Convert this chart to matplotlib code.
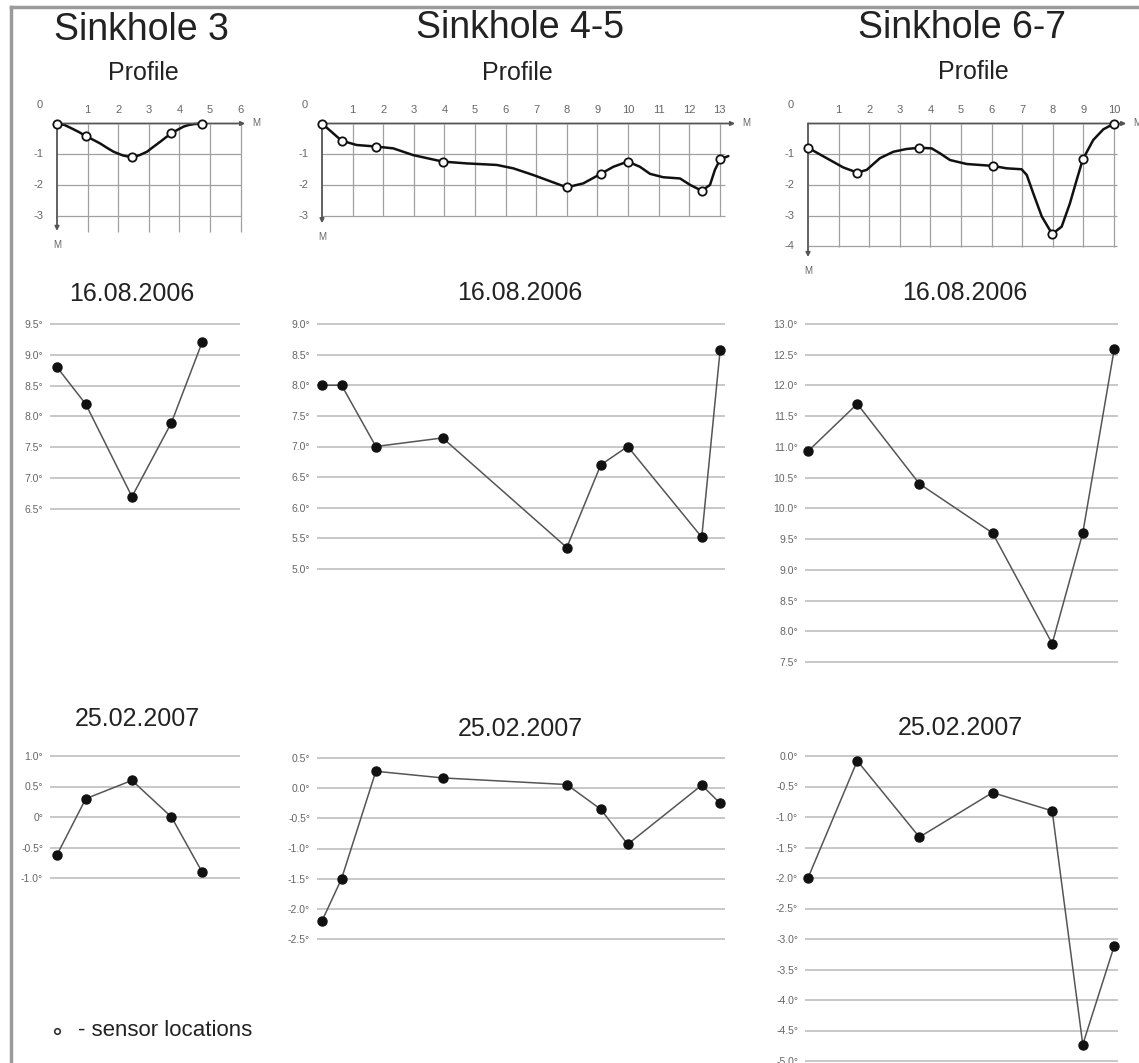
import matplotlib
matplotlib.use("Agg")
import matplotlib.pyplot as plt
from matplotlib.lines import Line2D

plt.rcParams['font.family'] = ['Liberation Sans', 'DejaVu Sans']

# ---- data ----
# sensor positions along the profile (m) and depth of the ground (m)
s3_x = [0, 0.94, 2.45, 3.74, 4.74]
s3_depth = [0, -0.41, -1.10, -0.32, 0]
s3_curve_x = [0, 0.25, 0.48, 0.72, 0.94, 1.18, 1.41, 1.63, 1.85, 2.15, 2.45, 2.7, 2.94,
              3.15, 3.38, 3.56, 3.74, 3.95, 4.14, 4.3, 4.47, 4.74]
s3_curve_y = [0, -0.05, -0.16, -0.28, -0.41, -0.53, -0.65, -0.79, -0.92, -1.04, -1.10,
              -1.03, -0.92, -0.76, -0.59, -0.45, -0.32, -0.2, -0.10, -0.05, -0.02, 0]
s3_t_aug = [8.8, 8.2, 6.7, 7.9, 9.2]
s3_t_feb = [-0.62, 0.3, 0.6, 0.0, -0.9]

s45_x = [0, 0.64, 1.76, 3.94, 8.0, 9.11, 9.99, 12.41, 13.01]
s45_depth = [0, -0.56, -0.75, -1.24, -2.08, -1.64, -1.24, -2.19, -1.17]
s45_curve_x = [0, 0.64, 1.13, 1.76, 2.33, 2.98, 3.94, 4.73, 5.71, 6.25, 6.91, 8.0, 8.54,
               9.11, 9.52, 9.99, 10.39, 10.72, 11.15, 11.7, 12.03, 12.41, 12.68, 12.84,
               13.01, 13.28]
s45_curve_y = [0, -0.56, -0.70, -0.75, -0.81, -1.03, -1.24, -1.30, -1.35, -1.46, -1.68,
               -2.08, -1.95, -1.64, -1.41, -1.24, -1.41, -1.64, -1.75, -1.79, -2.0, -2.19,
               -2.0, -1.51, -1.17, -1.06]
s45_t_aug = [8.0, 8.0, 7.0, 7.14, 5.35, 6.7, 7.0, 5.52, 8.57]
s45_t_feb = [-2.2, -1.5, 0.28, 0.17, 0.06, -0.35, -0.93, 0.05, -0.25]

s67_x = [0, 1.61, 3.64, 6.03, 7.98, 8.98, 10.01]
s67_depth = [-0.79, -1.60, -0.79, -1.38, -3.60, -1.17, 0]
s67_curve_x = [0, 0.61, 1.15, 1.61, 1.92, 2.35, 2.79, 3.22, 3.64, 4.04, 4.31, 4.64, 5.19,
               6.03, 6.49, 6.98, 7.15, 7.36, 7.64, 7.98, 8.29, 8.56, 8.78, 8.98, 9.32,
               9.65, 10.01]
s67_curve_y = [-0.79, -1.13, -1.43, -1.60, -1.51, -1.13, -0.92, -0.83, -0.79, -0.81, -0.97,
               -1.19, -1.32, -1.38, -1.46, -1.49, -1.68, -2.27, -3.03, -3.60, -3.36, -2.60,
               -1.84, -1.17, -0.54, -0.19, 0]
s67_t_aug = [10.93, 11.7, 10.4, 9.6, 7.8, 9.6, 12.6]
s67_t_feb = [-2.0, -0.08, -1.33, -0.6, -0.9, -4.73, -3.11]

t1a_ticks = [9.5, 9.0, 8.5, 8.0, 7.5, 7.0, 6.5]
t1b_ticks = [1.0, 0.5, 0.0, -0.5, -1.0]
t1b_labels = ['1.0°', '0.5°', '0°', '-0.5°', '-1.0°']
t2a_ticks = [9.0, 8.5, 8.0, 7.5, 7.0, 6.5, 6.0, 5.5, 5.0]
t2b_ticks = [0.5, 0.0, -0.5, -1.0, -1.5, -2.0, -2.5]
t3a_ticks = [13.0, 12.5, 12.0, 11.5, 11.0, 10.5, 10.0, 9.5, 9.0, 8.5, 8.0, 7.5]
t3b_ticks = [0.0, -0.5, -1.0, -1.5, -2.0, -2.5, -3.0, -3.5, -4.0, -4.5, -5.0]

W, H = 1139, 1063
SX, SY = 30.6, 30.7
Y0 = 123.5

fig = plt.figure(figsize=(W / 100, H / 100), dpi=100)
fig.patch.set_facecolor('white')


def px_axes(l, t, r, b):
    return fig.add_axes([l / W, 1 - b / H, (r - l) / W, (b - t) / H])


def profil(x0, xlim, ylim, cx, cy, sx, sy, ngrid, depths, vbottom, hright, arrx, arry):
    l = x0 + xlim[0] * SX
    r = x0 + xlim[1] * SX
    t = Y0 - ylim[1] * SY
    b = Y0 - ylim[0] * SY
    ax = px_axes(l, t, r, b)
    ax.set_xlim(xlim)
    ax.set_ylim(ylim)
    ax.axis('off')
    ax.hlines(depths, 0, hright, color='#a0a0a0', lw=0.9)
    ax.vlines(range(1, ngrid + 1), vbottom, 0, color='#a0a0a0', lw=0.9)
    ax.annotate('', xy=(arrx, 0), xytext=(0, 0),
                arrowprops=dict(arrowstyle='-|>', color='#555', lw=1.3, mutation_scale=6,
                                shrinkA=0, shrinkB=0))
    ax.annotate('', xy=(0, arry), xytext=(0, 0),
                arrowprops=dict(arrowstyle='-|>', color='#555', lw=1.3, mutation_scale=6,
                                shrinkA=0, shrinkB=0))
    ax.text(arrx + 0.35, 0, 'M', fontsize=7, color='#666', ha='center', va='center')
    ax.text(0, arry - 0.45, 'M', fontsize=7, color='#666', ha='center', va='center')
    ax.text(-0.55, 0.6, '0', fontsize=8, color='#666', ha='center', va='center')
    for k in range(1, ngrid + 1):
        ax.text(k, 0.45, str(k), fontsize=8, color='#666', ha='center', va='center')
    for d in depths:
        ax.text(-0.62, d, str(int(d)), fontsize=8, color='#666', ha='center', va='center')
    ax.plot(cx, cy, color='#111', lw=1.8, solid_joinstyle='round', solid_capstyle='round')
    ax.plot(sx, sy, 'o', ms=6, mfc='white', mec='#111', mew=1.3, zorder=5)
    return ax


def temp(x0, gl, gr, ytop, ybot, ticks, labels, xs, vals):
    ax = px_axes(gl, ytop, gr, ybot)
    ax.set_xlim((gl - x0) / SX, (gr - x0) / SX)
    ax.set_ylim(ticks[-1], ticks[0])
    for s in ax.spines.values():
        s.set_visible(False)
    ax.set_xticks([])
    ax.set_yticks(ticks)
    if labels is None:
        labels = [f'{v:.1f}°' for v in ticks]
    ax.set_yticklabels(labels, fontsize=7.5, color='#666')
    ax.tick_params(axis='y', length=0, pad=5)
    ax.hlines(ticks, (gl - x0) / SX, (gr - x0) / SX, color='#c4c4c4', lw=1.3, clip_on=False)
    ax.plot(xs, vals, color='#555', lw=1.1, zorder=3, clip_on=False)
    ax.plot(xs, vals, 'o', ms=6.5, color='#111', zorder=4, clip_on=False)
    ax.patch.set_alpha(0)
    return ax


# profiles
profil(57, (-1.2, 7.0), (-4.3, 1.0), s3_curve_x, s3_curve_y, s3_x, s3_depth,
       6, [-1, -2, -3], -3.55, 6.0, 6.15, -3.5)
profil(322, (-1.2, 14.5), (-3.9, 1.0), s45_curve_x, s45_curve_y, s45_x, s45_depth,
       13, [-1, -2, -3], -3.0, 13.17, 13.5, -3.25)
profil(808, (-1.2, 11.2), (-5.2, 1.0), s67_curve_x, s67_curve_y, s67_x, s67_depth,
       10, [-1, -2, -3, -4], -4.02, 10.1, 10.4, -4.35)

# temperature plots
temp(57, 50, 240, 324, 509, t1a_ticks, None, s3_x, s3_t_aug)
temp(57, 50, 240, 756, 878, t1b_ticks, t1b_labels, s3_x, s3_t_feb)
temp(322, 317, 725, 324, 569, t2a_ticks, None, s45_x, s45_t_aug)
temp(322, 317, 725, 758, 939, t2b_ticks, None, s45_x, s45_t_feb)
temp(808, 805, 1118, 324, 662, t3a_ticks, None, s67_x, s67_t_aug)
temp(808, 805, 1118, 756, 1061, t3b_ticks, None, s67_x, s67_t_feb)


def ftext(x, y, s, size, **kw):
    fig.text(x / W, 1 - y / H, s, fontsize=size, ha='center', va='center', color='#222', **kw)


ftext(141, 30, 'Sinkhole 3', 27)
ftext(520, 28, 'Sinkhole 4-5', 27)
ftext(962, 28, 'Sinkhole 6-7', 27)
ftext(143, 73, 'Profile', 18)
ftext(517, 73, 'Profile', 18)
ftext(973, 72, 'Profile', 18)
ftext(132, 294, '16.08.2006', 18)
ftext(520, 293, '16.08.2006', 18)
ftext(965, 293, '16.08.2006', 18)
ftext(137, 719, '25.02.2007', 18)
ftext(520, 729, '25.02.2007', 18)
ftext(960, 728, '25.02.2007', 18)

# legend
fig.add_artist(Line2D([57 / W], [1 - 1031 / H], marker='o', ms=4, mfc='white', mec='#333',
                      mew=1.2, ls='none'))
fig.text(78 / W, 1 - 1031 / H, '- sensor locations', fontsize=16, ha='left', va='center',
         color='#222')

# frame
fig.add_artist(Line2D([11 / W, 11 / W], [0, 1 - 7 / H], color='#9a9a9a', lw=2.5))
fig.add_artist(Line2D([11 / W, 1], [1 - 7 / H, 1 - 7 / H], color='#9a9a9a', lw=2.5))

fig.savefig('out.png', dpi=100)
